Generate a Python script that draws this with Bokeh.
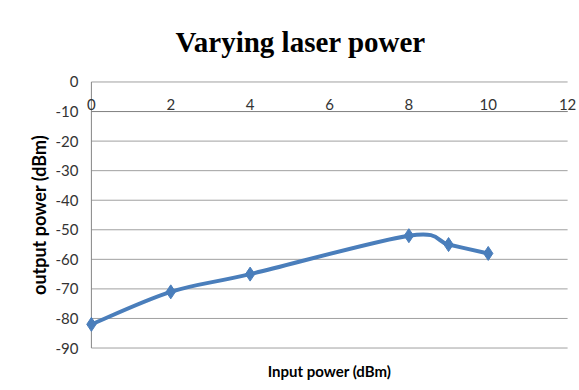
from bokeh.plotting import figure
from bokeh.models import Range1d, FixedTicker, ColumnDataSource
from bokeh.core.properties import value
from bokeh.embed import file_html
from bokeh.resources import INLINE

# Data
input_power = [0, 2, 4, 8, 9, 10]
output_power = [-82, -71, -65, -52, -55, -58]
x_ticks = [0, 2, 4, 6, 8, 10, 12]
y_ticks = [0, -10, -20, -30, -40, -50, -60, -70, -80, -90]
x_axis_cross = -10

title_text = "Varying laser power"
x_label = "Input power (dBm)"
y_label = "output power (dBm)"

LINE_COLOR = "#4a7ebb"
TEXT_COLOR = "#333333"
GRID_COLOR = "#a0a0a0"
AXIS_COLOR = "#868686"

x_min, x_max = x_ticks[0], x_ticks[-1]
y_min, y_max = min(y_ticks), max(y_ticks)

p = figure(width=579, height=390, output_backend="svg", toolbar_location=None,
           x_range=Range1d(x_min - 0.3, x_max + 0.3),
           y_range=Range1d(y_min - 0.5, y_max + 0.5),
           min_border_left=79, min_border_right=0, min_border_top=80,
           min_border_bottom=41)
p.outline_line_color = None
p.background_fill_color = "white"
p.border_fill_color = "white"

# title
p.title.text = title_text
p.title.align = "left"
p.title.offset = 96
p.title.standoff = 45
p.title.text_font = "Liberation Serif"
p.title.text_font_style = "bold"
p.title.text_font_size = "29px"
p.title.text_color = "black"

# grid (drawn between the axis limits only)
p.xgrid.visible = False
p.ygrid.visible = False
p.segment(x0=[x_min] * len(y_ticks), x1=[x_max] * len(y_ticks),
          y0=y_ticks, y1=y_ticks, line_color=GRID_COLOR, line_width=1)

# vertical axis line at x = 0
p.segment(x0=[x_min], x1=[x_min], y0=[y_min], y1=[y_max],
          line_color=AXIS_COLOR, line_width=1)
# horizontal axis line crossing at -10
p.segment(x0=[x_min], x1=[x_max], y0=[x_axis_cross], y1=[x_axis_cross],
          line_color=AXIS_COLOR, line_width=1)

# y axis (labels only)
p.yaxis.ticker = FixedTicker(ticks=y_ticks)
p.yaxis.major_label_overrides = {t: str(t) for t in y_ticks}
p.yaxis.major_tick_out = 0
p.yaxis.major_tick_in = 0
p.yaxis.minor_tick_out = 0
p.yaxis.minor_tick_in = 0
p.yaxis.axis_line_color = None
p.yaxis.major_label_standoff = 1
p.yaxis.major_label_text_font = "Lato"
p.yaxis.major_label_text_font_size = "15px"
p.yaxis.major_label_text_color = TEXT_COLOR
p.yaxis.axis_label = y_label
p.yaxis.axis_label_text_font = "Lato"
p.yaxis.axis_label_text_font_style = "bold"
p.yaxis.axis_label_text_font_size = "18px"
p.yaxis.axis_label_text_color = "black"
p.yaxis.axis_label_standoff = 3

# x axis (only title at bottom)
p.xaxis.ticker = FixedTicker(ticks=[])
p.xaxis.axis_line_color = None
p.xaxis.major_tick_out = 0
p.xaxis.major_tick_in = 0
p.xaxis.minor_tick_out = 0
p.xaxis.minor_tick_in = 0
p.xaxis.axis_label = x_label
p.xaxis.axis_label_text_font = "Lato"
p.xaxis.axis_label_text_font_style = "bold"
p.xaxis.axis_label_text_font_size = "15px"
p.xaxis.axis_label_text_color = "black"
p.xaxis.axis_label_standoff = 12

# x tick labels sitting on the crossing axis
p.text(x=x_ticks, y=[x_axis_cross] * len(x_ticks), text=[str(t) for t in x_ticks],
       text_font=value("Lato"), text_font_size="15px", text_color=TEXT_COLOR,
       text_align="center", text_baseline="bottom", y_offset=-2)

# smoothed line (Catmull-Rom style bezier, like Excel smoothing)
n = len(input_power)
x0, y0, x1, y1, cx0, cy0, cx1, cy1 = [], [], [], [], [], [], [], []
for i in range(n - 1):
    xm = input_power[max(i - 1, 0)]
    ym = output_power[max(i - 1, 0)]
    xp = input_power[min(i + 2, n - 1)]
    yp = output_power[min(i + 2, n - 1)]
    xa, ya = input_power[i], output_power[i]
    xb, yb = input_power[i + 1], output_power[i + 1]
    x0.append(xa); y0.append(ya); x1.append(xb); y1.append(yb)
    cx0.append(xa + (xb - xm) / 6.0); cy0.append(ya + (yb - ym) / 6.0)
    cx1.append(xb - (xp - xa) / 6.0); cy1.append(yb - (yp - ya) / 6.0)

p.bezier(x0=x0, y0=y0, x1=x1, y1=y1, cx0=cx0, cy0=cy0, cx1=cx1, cy1=cy1,
         line_color=LINE_COLOR, line_width=4)

src = ColumnDataSource(dict(x=input_power, y=output_power))
p.scatter("x", "y", source=src, marker="diamond", size=14,
          fill_color=LINE_COLOR, line_color=LINE_COLOR)

open("out.html", "w").write(file_html(p, INLINE))
